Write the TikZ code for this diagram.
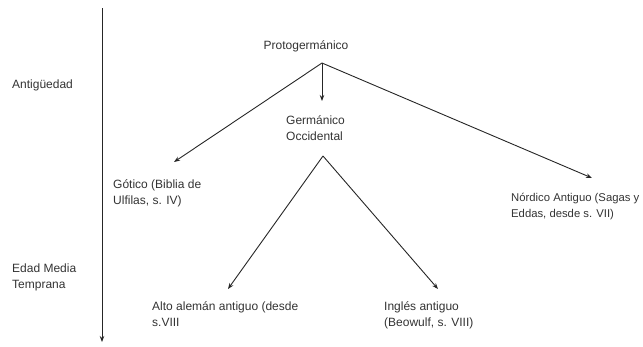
\documentclass[tikz,border=0pt]{standalone}
\usepackage{fontspec}
\setmainfont{Liberation Sans}
\usetikzlibrary{arrows.meta}
\begin{document}
\begin{tikzpicture}[x=1pt,y=-1pt,
  lbl/.style={anchor=north west,inner sep=0pt,align=left,text=black!80,font=\fontsize{12}{16}\selectfont},
  clbl/.style={anchor=north,inner sep=0pt,align=center,text=black!80,font=\fontsize{12}{16}\selectfont},
  arr/.style={draw=black!85,line width=0.9pt,-{Stealth[length=6pt,width=4.5pt]}},
  ln/.style={draw=black!85,line width=0.9pt}]
\useasboundingbox (0,0) rectangle (643,346);
% timeline
\coordinate (ttop) at (102,8);
\coordinate (tbot) at (102,342);
\draw[arr] (ttop) -- (tbot);
\node[lbl] (ant) at (12,80) {Antigüedad};
\node[lbl] (edm) at (12,264) {Edad Media\\Temprana};
% tree
\node[clbl] (proto) at (306,40) {Protogermánico};
\coordinate (pa) at (322,63);
\coordinate (pg) at (322,101);
\coordinate (pl) at (174,162);
\coordinate (pr) at (592,178);
\draw[arr] (pa) -- (pg);
\draw[arr] (pa) -- (pl);
\draw[arr] (pa) -- (pr);
\node[lbl] (germ) at (286,115) {Germánico\\Occidental};
\node[lbl] (got) at (113,179) {Gótico (Biblia de\\Ulfilas, s. IV)};
\node[lbl,font=\fontsize{11.3}{15.5}\selectfont] (nord) at (511,193) {Nórdico Antiguo (Sagas y\\Eddas, desde s. VII)};
\coordinate (ga) at (323,156);
\coordinate (gl) at (228,289);
\coordinate (gr) at (438,289);
\draw[arr] (ga) -- (gl);
\draw[arr] (ga) -- (gr);
\node[lbl] (alto) at (152,301) {Alto alemán antiguo (desde\\s.VIII};
\node[lbl] (ingl) at (384,301) {Inglés antiguo\\(Beowulf, s. VIII)};
\end{tikzpicture}
\end{document}
